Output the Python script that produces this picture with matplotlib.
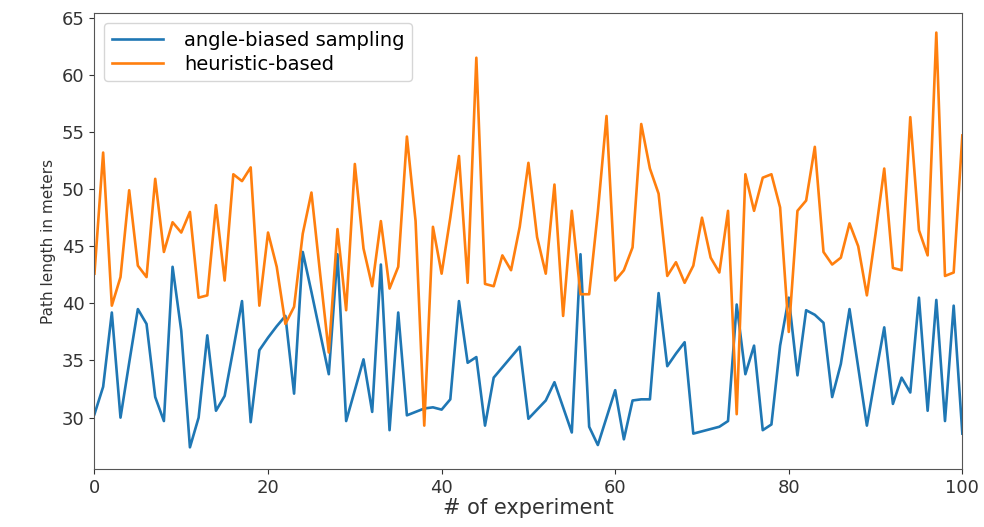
import numpy as np
import matplotlib.pyplot as plt

# Path lengths, one value per experiment (0..100)
experiment = np.arange(101)

angle_biased = [
    30.3, 32.7, 39.2, 30.0, 34.8, 39.5, 38.2, 31.8, 29.7, 43.2,
    37.6, 27.4, 30.0, 37.2, 30.6, 31.9, 36.0, 40.2, 29.6, 35.9,
    37.0, 38.0, 38.9, 32.1, 44.5, 41.0, 37.4, 33.8, 44.3, 29.7,
    32.4, 35.1, 30.5, 43.4, 28.9, 39.2, 30.2, 30.5, 30.8, 30.9,
    30.7, 31.6, 40.2, 34.8, 35.3, 29.3, 33.5, 34.4, 35.3, 36.2,
    29.9, 30.7, 31.5, 33.1, 30.9, 28.7, 44.3, 29.2, 27.6, 30.0,
    32.4, 28.1, 31.5, 31.6, 31.6, 40.9, 34.5, 35.6, 36.6, 28.6,
    28.8, 29.0, 29.2, 29.7, 39.9, 33.8, 36.3, 28.9, 29.4, 36.3,
    40.5, 33.7, 39.4, 39.0, 38.3, 31.8, 34.7, 39.5, 34.4, 29.3,
    33.7, 37.9, 31.2, 33.5, 32.2, 40.5, 30.6, 40.3, 29.7, 39.8,
    28.6,
]

heuristic = [
    42.6, 53.2, 39.8, 42.3, 49.9, 43.3, 42.3, 50.9, 44.5, 47.1,
    46.2, 48.0, 40.5, 40.7, 48.6, 42.0, 51.3, 50.7, 51.9, 39.8,
    46.2, 43.2, 38.2, 39.7, 46.1, 49.7, 42.6, 35.7, 46.5, 39.4,
    52.2, 44.8, 41.5, 47.2, 41.3, 43.2, 54.6, 47.2, 29.3, 46.7,
    42.6, 47.5, 52.9, 41.8, 61.5, 41.7, 41.5, 44.2, 42.9, 46.7,
    52.3, 45.8, 42.6, 50.4, 38.9, 48.1, 40.8, 40.8, 48.0, 56.4,
    42.0, 42.9, 44.9, 55.7, 51.8, 49.6, 42.4, 43.6, 41.8, 43.3,
    47.5, 44.0, 42.7, 48.1, 30.3, 51.3, 48.1, 51.0, 51.3, 48.4,
    37.5, 48.1, 49.0, 53.7, 44.5, 43.4, 44.0, 47.0, 45.0, 40.7,
    46.1, 51.8, 43.1, 42.9, 56.3, 46.4, 44.2, 63.7, 42.4, 42.7,
    54.7,
]

fig = plt.figure(figsize=(9.84, 5.27), dpi=100)
ax = fig.add_axes([0.096, 0.11, 0.882, 0.865])

ax.plot(experiment, angle_biased, color='#1f77b4', lw=1.9, label='angle-biased sampling')
ax.plot(experiment, heuristic, color='#ff7f0e', lw=1.9, label='heuristic-based')

ax.set_xlim(0, 100)
ax.set_ylim(25.5, 65.4)
ax.set_yticks([30, 35, 40, 45, 50, 55, 60, 65])
ax.tick_params(labelsize=13, colors='#333333')
for s in ax.spines.values():
    s.set_color('#555555')

ax.set_xlabel('# of experiment', fontsize=15, color='#333333', labelpad=1)
ax.set_ylabel('Path length in meters', fontsize=11, color='#333333')
ax.legend(loc='upper left', fontsize=14, handlelength=2.6, handletextpad=1.1,
          borderaxespad=0.5, labelspacing=0.25)

fig.savefig('out.png', dpi=100)
